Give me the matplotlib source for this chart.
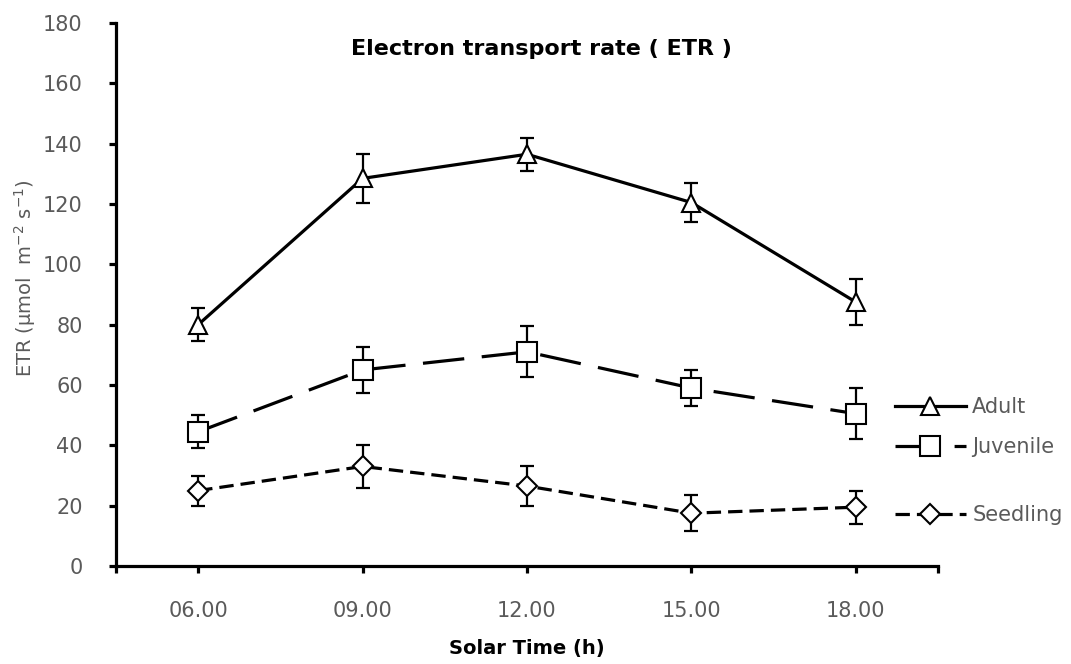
import matplotlib
matplotlib.use("Agg")
import matplotlib.pyplot as plt
import numpy as np

plt.rcParams['font.family'] = ['DejaVu Sans']
plt.rcParams['mathtext.default'] = 'regular'

times = ['06.00', '09.00', '12.00', '15.00', '18.00']

adult = [80, 128.5, 136.5, 120.5, 87.5]
adult_err = [5.5, 8, 5.5, 6.5, 7.5]
juvenile = [44.5, 65, 71, 59, 50.5]
juvenile_err = [5.5, 7.5, 8.5, 6, 8.5]
seedling = [25, 33, 26.5, 17.5, 19.5]
seedling_err = [5, 7, 6.5, 6, 5.5]

grey = '#5a5a5a'
x = np.arange(len(times))

fig = plt.figure(figsize=(10.71, 6.64), dpi=100)
ax = fig.add_axes([0.1083, 0.1476, 0.7675, 0.8177])

series = [
    ('Adult', adult, adult_err, '^', 13, '-'),
    ('Juvenile', juvenile, juvenile_err, 's', 14, (0, (13, 5.5))),
    ('Seedling', seedling, seedling_err, 'D', 10.5, (0, (4.5, 2.2))),
]

handles = []
for name, y, err, mk, ms, ls in series:
    ax.errorbar(x, y, yerr=err, fmt='none', ecolor='black',
                elinewidth=1.6, capsize=5, capthick=1.6, zorder=2)
    h, = ax.plot(x, y, color='black', lw=2.3, linestyle=ls, marker=mk,
                 markersize=ms, markerfacecolor='white',
                 markeredgecolor='black', markeredgewidth=1.5,
                 label=name, zorder=3)
    handles.append(h)

ax.set_xlim(-0.5, 4.5)
ax.set_ylim(0, 180)
ax.set_yticks(np.arange(0, 181, 20))
ax.set_xticks(x)
ax.set_xticklabels(times)
ax.set_xticks([-0.5, 4.5], minor=True)

for side in ['top', 'right']:
    ax.spines[side].set_visible(False)
for side in ['left', 'bottom']:
    ax.spines[side].set_linewidth(2.3)

ax.tick_params(axis='both', which='both', direction='out', length=5,
               width=2.3, colors='black', labelcolor=grey, labelsize=15)
ax.tick_params(axis='x', pad=20)
ax.tick_params(axis='y', pad=19)

ax.set_title('Electron transport rate ( ETR )', fontsize=16,
             fontweight='bold', x=0.517, y=0.925)
ax.set_xlabel('Solar Time (h)', fontsize=14, fontweight='bold')
ax.xaxis.set_label_coords(0.5, -0.135)
ax.set_ylabel('ETR (µmol  m$^{-2}$ s$^{-1}$)', fontsize=14, color=grey)
ax.yaxis.set_label_coords(-0.095, 0.53)

# one legend per series, stacked at the right of the axis
legend_y = [0.387, 0.327, 0.224]
for h, ly in zip(handles, legend_y):
    fig.legend([h], [h.get_label()], loc='center left',
               bbox_to_anchor=(0.826, ly), frameon=False,
               handlelength=3.4, handletextpad=0.3, borderpad=0,
               fontsize=15, labelcolor=grey)

fig.savefig('out.png', dpi=100)
